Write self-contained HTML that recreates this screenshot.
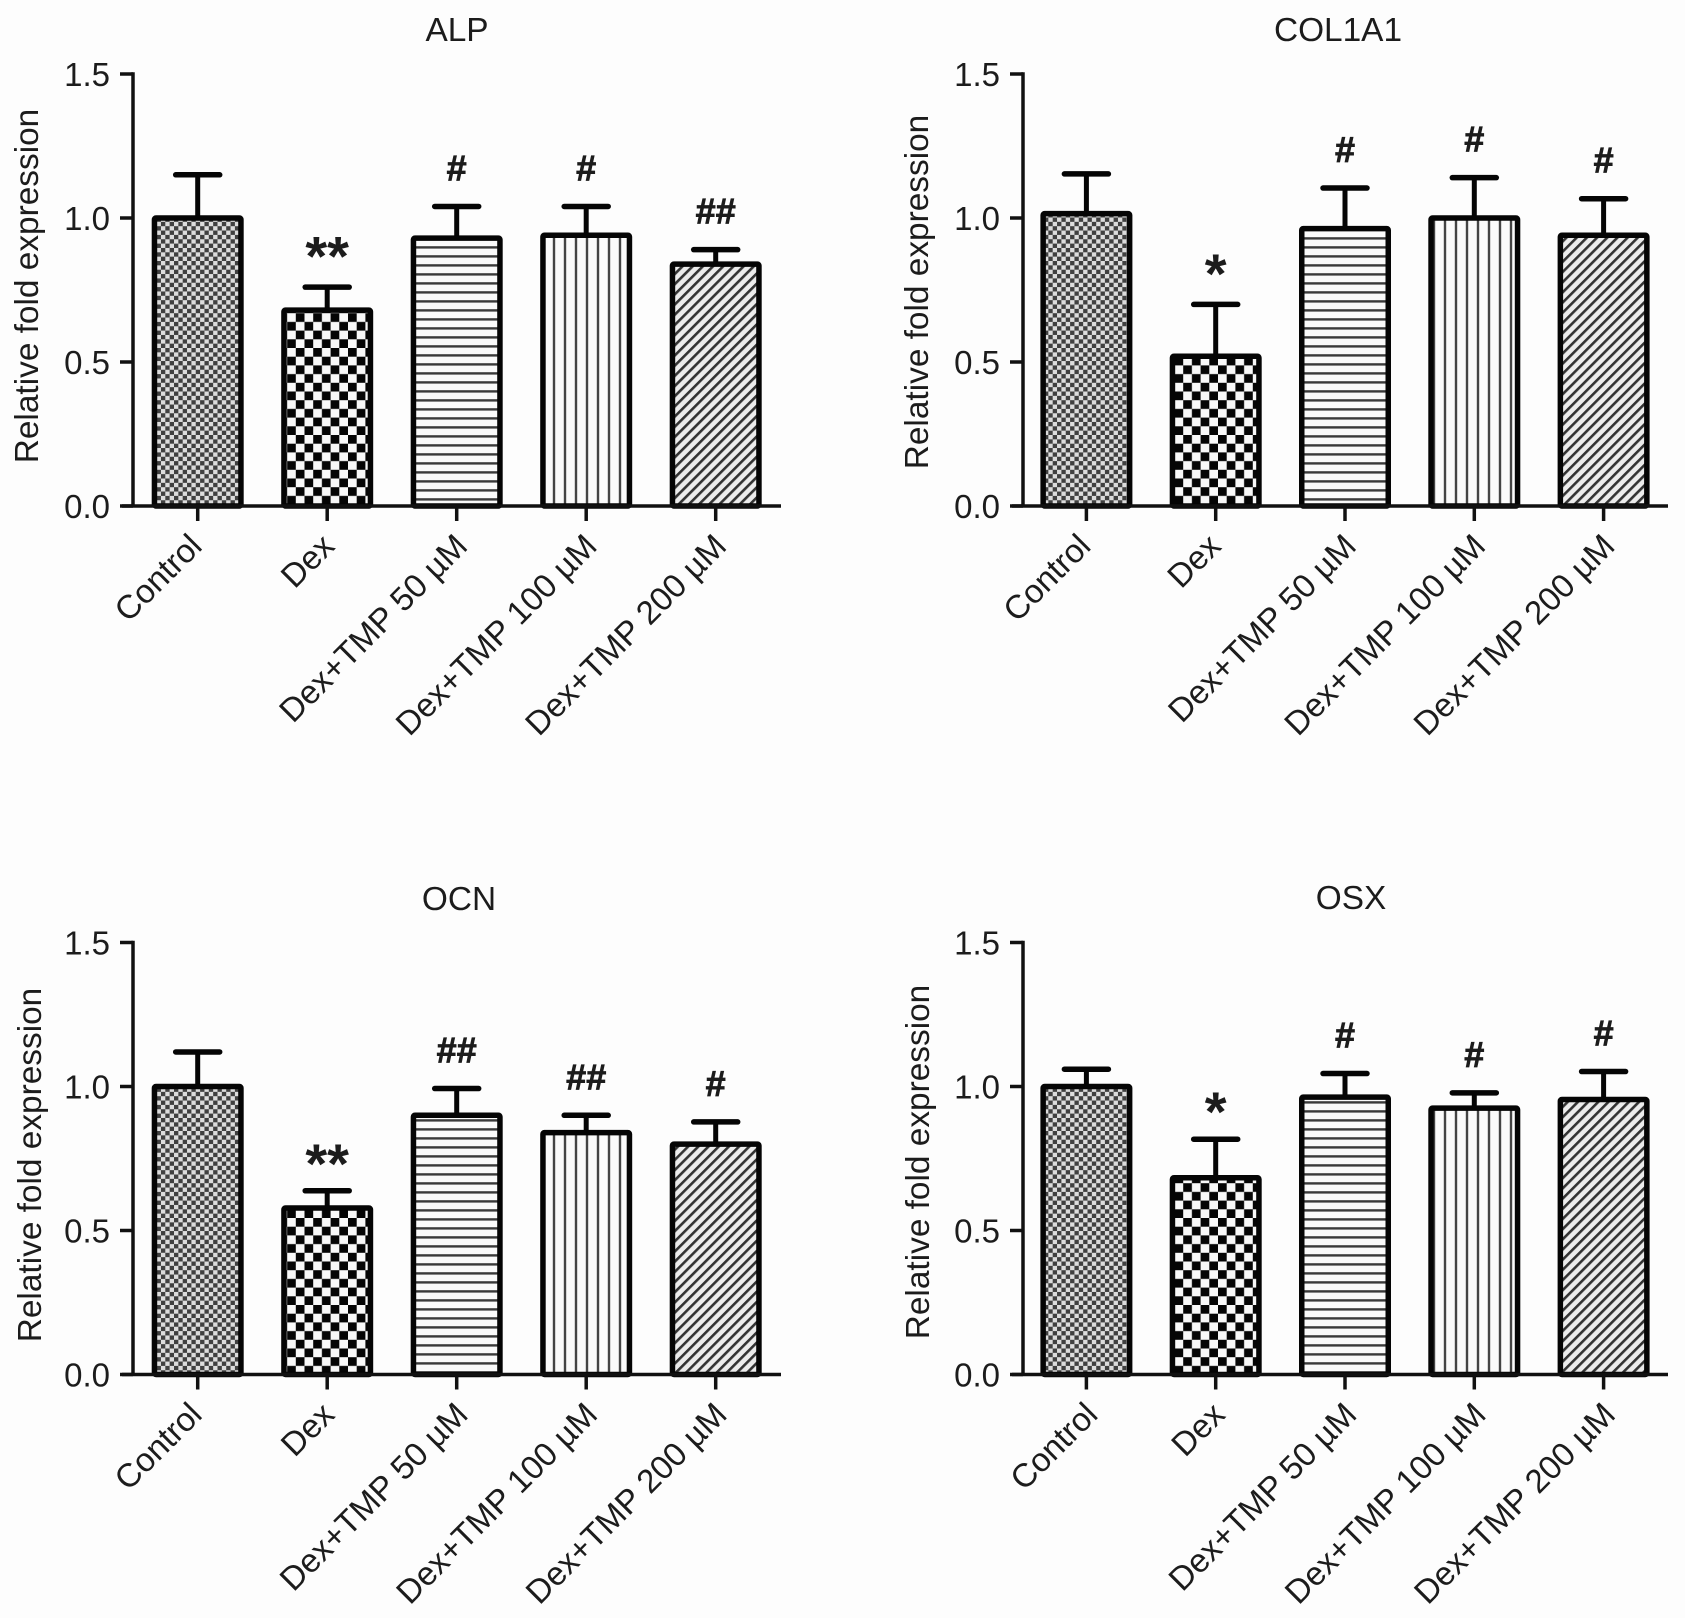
<!DOCTYPE html>
<html lang="en">
<head>
<meta charset="utf-8">
<title>Relative fold expression of ALP, COL1A1, OCN and OSX</title>
<style>
  html, body { margin: 0; padding: 0; background: #fdfdfd; }
  svg { display: block; }
  text { font-family: "Liberation Sans", Arial, sans-serif; fill: #1c1c1c; }
</style>
</head>
<body>
<svg id="figure" xmlns="http://www.w3.org/2000/svg" width="1685" height="1618" viewBox="0 0 1685 1618">
  <defs>
    <pattern id="fill-control" patternUnits="userSpaceOnUse" width="8.7" height="8.7">
      <rect width="8.7" height="8.7" fill="#dcdcdc"/>
      <rect width="4.35" height="4.35" fill="#404040"/>
      <rect x="4.35" y="4.35" width="4.35" height="4.35" fill="#404040"/>
    </pattern>
    <pattern id="fill-dex" patternUnits="userSpaceOnUse" width="17.4" height="17.4">
      <rect width="17.4" height="17.4" fill="#f8f8f8"/>
      <rect width="8.7" height="8.7" fill="#050505"/>
      <rect x="8.7" y="8.7" width="8.7" height="8.7" fill="#050505"/>
    </pattern>
    <pattern id="fill-50" patternUnits="userSpaceOnUse" width="9" height="9">
      <rect width="9" height="9" fill="#fafafa"/>
      <rect y="3.2" width="9" height="2.4" fill="#3a3a3a"/>
    </pattern>
    <pattern id="fill-100" patternUnits="userSpaceOnUse" width="11" height="11">
      <rect width="11" height="11" fill="#fbfbfb"/>
      <rect x="2.8" width="2.4" height="11" fill="#444444"/>
    </pattern>
    <pattern id="fill-200" patternUnits="userSpaceOnUse" width="7.2" height="7.2" patternTransform="rotate(45)">
      <rect width="7.2" height="7.2" fill="#ececec"/>
      <rect x="0" width="2.6" height="7.2" fill="#333333"/>
    </pattern>
  </defs>
</svg>
<script>
const categories = ["Control", "Dex", "Dex+TMP 50 \u00B5M", "Dex+TMP 100 \u00B5M", "Dex+TMP 200 \u00B5M"];
const yTickValues = [0, 0.5, 1, 1.5];
const yTickLabels = ["0.0", "0.5", "1.0", "1.5"];

const alpValues = [1.00, 0.68, 0.93, 0.94, 0.84];
const alpErrorTops = [1.15, 0.76, 1.04, 1.04, 0.89];
const alpMarks = ["", "**", "#", "#", "##"];

const col1a1Values = [1.015, 0.52, 0.963, 1.00, 0.94];
const col1a1ErrorTops = [1.153, 0.70, 1.104, 1.14, 1.067];
const col1a1Marks = ["", "*", "#", "#", "#"];

const ocnValues = [1.00, 0.578, 0.90, 0.84, 0.80];
const ocnErrorTops = [1.12, 0.638, 0.993, 0.90, 0.877];
const ocnMarks = ["", "**", "##", "##", "#"];

const osxValues = [1.00, 0.683, 0.963, 0.925, 0.955];
const osxErrorTops = [1.06, 0.817, 1.045, 0.978, 1.052];
const osxMarks = ["", "*", "#", "#", "#"];

const fillIds = ["fill-control", "fill-dex", "fill-50", "fill-100", "fill-200"];
const SVG_NS = "http://www.w3.org/2000/svg";
const figure = document.getElementById("figure");

function make(tag, parent, attrs, content) {
  const node = document.createElementNS(SVG_NS, tag);
  for (const key in attrs) node.setAttribute(key, attrs[key]);
  if (content !== undefined) node.textContent = content;
  parent.appendChild(node);
  return node;
}

function drawPanel(p) {
  const yScale = v => p.zeroY - (v / 1.5) * (p.zeroY - p.topY);
  const xScale = i => p.firstX + i * p.stepX;
  const barW = 86.5;
  const slug = p.title.toLowerCase();

  const g = make("g", figure, {});
  
  

  const title = make("text", g, { x: p.titleX, y: p.titleY, "text-anchor": "middle", "font-size": 33.4 }, p.title);
  
  

  const yTitle = make("text", g, { transform: "translate(" + p.yTitleX + "," + p.yTitleY + ") rotate(-90)", "text-anchor": "middle", "font-size": 33.4 }, "Relative fold expression");
  
  

  categories.forEach((cat, i) => {
    const cx = xScale(i);
    const y0 = yScale(0);
    const yv = yScale(p.values[i]);
    const yc = yScale(p.errorTops[i]);

    const stem = make("line", g, { x1: cx, x2: cx, y1: yv, y2: yc, stroke: "#050505", "stroke-width": 5 });
    
    

    const cap = make("line", g, { x1: cx - 22, x2: cx + 22, y1: yc, y2: yc, stroke: "#050505", "stroke-width": 5.5, "stroke-linecap": "round" });
    
    

    const bar = make("rect", g, { x: cx - barW / 2, y: yv, width: barW, height: y0 - yv, fill: "url(#" + fillIds[i] + ")", stroke: "#050505", "stroke-width": 5.5, rx: 1.5 });
    
    

    if (p.marks[i]) {
      const isStar = p.marks[i].indexOf("*") === 0;
      const mark = make("text", g, {
        x: cx, y: yc - (isStar ? p.starLift : 26),
        "text-anchor": "middle",
        "font-size": isStar ? 56 : 36,
        "font-weight": "bold",
        stroke: isStar ? "none" : "#1c1c1c",
        "stroke-width": isStar ? 0 : 0.8
      }, p.marks[i]);
      
      
    }

    const tick = make("line", g, { x1: cx, x2: cx, y1: y0, y2: y0 + 15, stroke: "#111", "stroke-width": 3.5 });
    
    

    const shift = i === 0 ? p.controlDx : (i === 1 ? p.dexDx : p.longDx);
    const lx = cx + shift;
    const ly = y0 + 42;
    const label = make("text", g, { transform: "translate(" + lx + "," + ly + ") rotate(-45)", "text-anchor": "end", "font-size": 33.1 }, cat);
    
    
  });

  const yAxis = make("line", g, { x1: p.axisX, x2: p.axisX, y1: yScale(1.5) - 1.75, y2: yScale(0), stroke: "#111", "stroke-width": 3.5 });
  
  

  const xAxis = make("line", g, { x1: p.axisX - 11, x2: p.axisEnd, y1: yScale(0), y2: yScale(0), stroke: "#111", "stroke-width": 3.5 });
  
  

  yTickValues.forEach((v, i) => {
    const y = yScale(v);
    const tick = make("line", g, { x1: p.axisX - 13, x2: p.axisX, y1: y, y2: y, stroke: "#111", "stroke-width": 3.5 });
    
    

    const label = make("text", g, { x: p.axisX - 23, y: y + 12, "text-anchor": "end", "font-size": 33 }, yTickLabels[i]);
    
    
  });
}

drawPanel({ title: "ALP", values: alpValues, errorTops: alpErrorTops, marks: alpMarks,
  axisX: 133, axisEnd: 781, firstX: 197.7, stepX: 129.5, zeroY: 506, topY: 74,
  titleX: 457, titleY: 41, yTitleX: 38, yTitleY: 286,
  controlDx: 6, dexDx: 9, longDx: 12.5, starLift: 11.5 });
drawPanel({ title: "COL1A1", values: col1a1Values, errorTops: col1a1ErrorTops, marks: col1a1Marks,
  axisX: 1023, axisEnd: 1668, firstX: 1086.4, stepX: 129.3, zeroY: 506, topY: 74,
  titleX: 1338, titleY: 41, yTitleX: 928, yTitleY: 292,
  controlDx: 6, dexDx: 7, longDx: 13, starLift: 11.5 });
drawPanel({ title: "OCN", values: ocnValues, errorTops: ocnErrorTops, marks: ocnMarks,
  axisX: 133, axisEnd: 781, firstX: 197.7, stepX: 129.5, zeroY: 1374.5, topY: 942.5,
  titleX: 459, titleY: 910, yTitleX: 41, yTitleY: 1165,
  controlDx: 6, dexDx: 9, longDx: 13, starLift: 8 });
drawPanel({ title: "OSX", values: osxValues, errorTops: osxErrorTops, marks: osxMarks,
  axisX: 1023, axisEnd: 1668, firstX: 1086.4, stepX: 129.3, zeroY: 1374.5, topY: 942.5,
  titleX: 1351, titleY: 909, yTitleX: 929, yTitleY: 1162,
  controlDx: 13, dexDx: 11, longDx: 13.5, starLift: 8 });
</script>
</body>
</html>
